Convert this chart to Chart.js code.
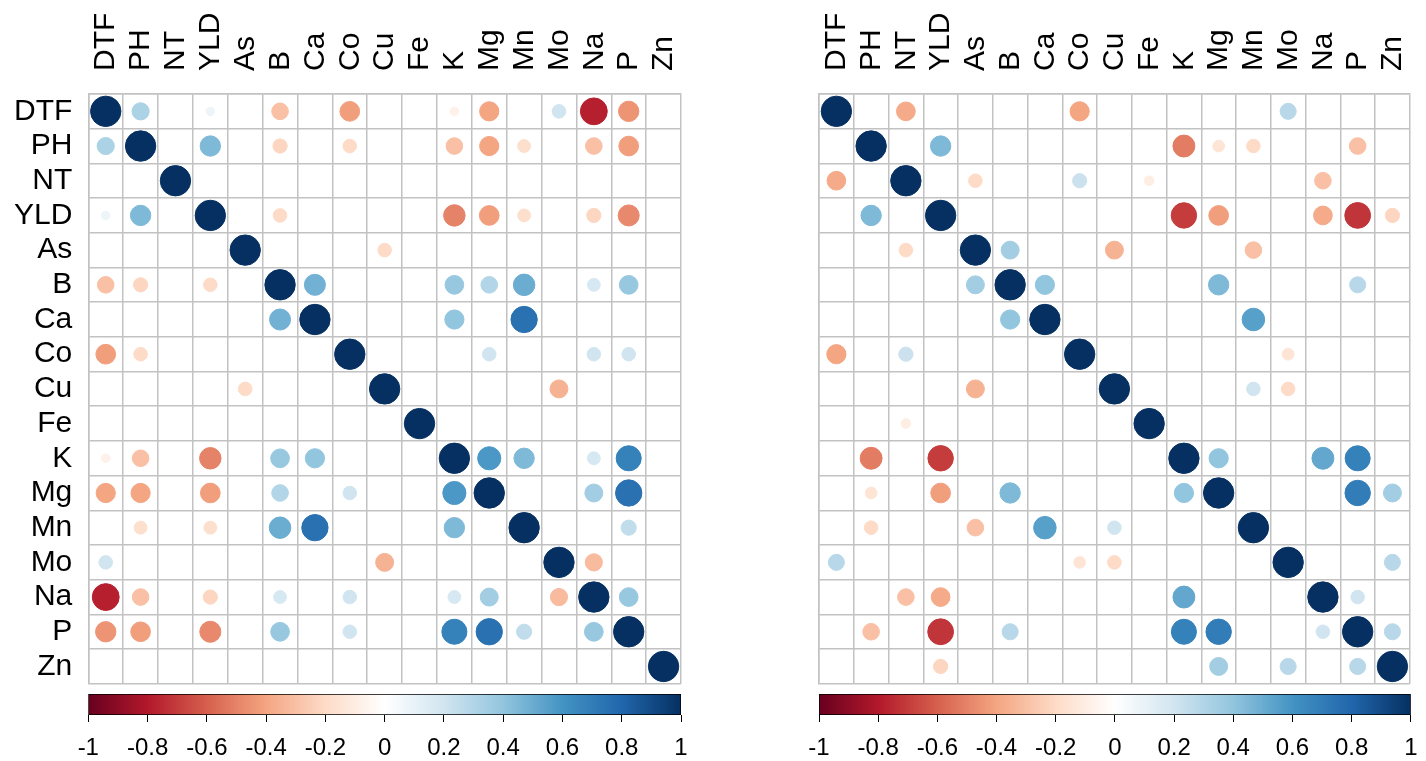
<!DOCTYPE html>
<html>
<head>
<meta charset="utf-8">
<script src="https://cdn.jsdelivr.net/npm/chart.js@4.4.1/dist/chart.umd.min.js"></script>
<style>
  html, body { margin: 0; padding: 0; background: #fff; }
  #wrap { position: relative; width: 1426px; height: 761px; overflow: hidden; }
  .box { position: absolute; }
</style>
</head>
<body>
<div id="wrap">
  <div class="box" style="left:0;top:0;width:700px;height:700px"><canvas id="mat-left"></canvas></div>
  <div class="box" style="left:726px;top:0;width:700px;height:700px"><canvas id="mat-right"></canvas></div>
  <div class="box" style="left:0;top:686px;width:700px;height:75px"><canvas id="bar-left"></canvas></div>
  <div class="box" style="left:726px;top:686px;width:700px;height:75px"><canvas id="bar-right"></canvas></div>
</div>
<script>
const vars = ['DTF', 'PH', 'NT', 'YLD', 'As', 'B', 'Ca', 'Co', 'Cu', 'Fe', 'K', 'Mg', 'Mn', 'Mo', 'Na', 'P', 'Zn'];
const colorTicks = [-1, -0.8, -0.6, -0.4, -0.2, 0, 0.2, 0.4, 0.6, 0.8, 1];
const palette = ['#67001F', '#B2182B', '#D6604D', '#F4A582', '#FDDBC7', '#FFFFFF',
                 '#D1E5F0', '#92C5DE', '#4393C3', '#2166AC', '#053061'];

// left matrix (0 = blank cell)
const corrLeft = [
  [1, .32, 0, .08, 0, -.3, 0, -.42, 0, 0, -.08, -.4, 0, .2, -.78, -.45, 0],
  [.32, 1, 0, .45, 0, -.22, 0, -.2, 0, 0, -.3, -.4, -.18, 0, -.3, -.42, 0],
  [0, 0, 1, 0, 0, 0, 0, 0, 0, 0, 0, 0, 0, 0, 0, 0, 0],
  [.08, .45, 0, 1, 0, -.2, 0, 0, 0, 0, -.5, -.42, -.18, 0, -.22, -.48, 0],
  [0, 0, 0, 0, 1, 0, 0, 0, -.2, 0, 0, 0, 0, 0, 0, 0, 0],
  [-.3, -.22, 0, -.2, 0, 1, .48, 0, 0, 0, .38, .3, .5, 0, .18, .38, 0],
  [0, 0, 0, 0, 0, .48, 1, 0, 0, 0, .4, 0, .75, 0, 0, 0, 0],
  [-.42, -.2, 0, 0, 0, 0, 0, 1, 0, 0, 0, .2, 0, 0, .2, .2, 0],
  [0, 0, 0, 0, -.2, 0, 0, 0, 1, 0, 0, 0, 0, -.35, 0, 0, 0],
  [0, 0, 0, 0, 0, 0, 0, 0, 0, 1, 0, 0, 0, 0, 0, 0, 0],
  [-.08, -.3, 0, -.5, 0, .38, .4, 0, 0, 0, 1, .58, .45, 0, .18, .68, 0],
  [-.4, -.4, 0, -.42, 0, .3, 0, .2, 0, 0, .58, 1, 0, 0, .35, .75, 0],
  [0, -.18, 0, -.18, 0, .5, .75, 0, 0, 0, .45, 0, 1, 0, 0, .25, 0],
  [.2, 0, 0, 0, 0, 0, 0, 0, -.35, 0, 0, 0, 0, 1, -.32, 0, 0],
  [-.78, -.3, 0, -.22, 0, .18, 0, .2, 0, 0, .18, .35, 0, -.32, 1, .38, 0],
  [-.45, -.42, 0, -.48, 0, .38, 0, .2, 0, 0, .68, .75, .25, 0, .38, 1, 0],
  [0, 0, 0, 0, 0, 0, 0, 0, 0, 0, 0, 0, 0, 0, 0, 0, 1]
];

// right matrix
const corrRight = [
  [1, 0, -.38, 0, 0, 0, 0, -.4, 0, 0, 0, 0, 0, .28, 0, 0, 0],
  [0, 1, 0, .45, 0, 0, 0, 0, 0, 0, -.52, -.15, -.2, 0, 0, -.3, 0],
  [-.38, 0, 1, 0, -.2, 0, 0, .22, 0, -.1, 0, 0, 0, 0, -.3, 0, 0],
  [0, .45, 0, 1, 0, 0, 0, 0, 0, 0, -.7, -.42, 0, 0, -.38, -.72, -.22],
  [0, 0, -.2, 0, 1, .35, 0, 0, -.35, 0, 0, 0, -.3, 0, 0, 0, 0],
  [0, 0, 0, 0, .35, 1, .4, 0, 0, 0, 0, .45, 0, 0, 0, .28, 0],
  [0, 0, 0, 0, 0, .4, 1, 0, 0, 0, 0, 0, .55, 0, 0, 0, 0],
  [-.4, 0, .22, 0, 0, 0, 0, 1, 0, 0, 0, 0, 0, -.15, 0, 0, 0],
  [0, 0, 0, 0, -.35, 0, 0, 0, 1, 0, 0, 0, .2, -.2, 0, 0, 0],
  [0, 0, -.1, 0, 0, 0, 0, 0, 0, 1, 0, 0, 0, 0, 0, 0, 0],
  [0, -.52, 0, -.7, 0, 0, 0, 0, 0, 0, 1, .4, 0, 0, .52, .68, 0],
  [0, -.15, 0, -.42, 0, .45, 0, 0, 0, 0, .4, 1, 0, 0, 0, .7, .35],
  [0, -.2, 0, 0, -.3, 0, .55, 0, .2, 0, 0, 0, 1, 0, 0, 0, 0],
  [.28, 0, 0, 0, 0, 0, 0, -.15, -.2, 0, 0, 0, 0, 1, 0, 0, .28],
  [0, 0, -.3, -.38, 0, 0, 0, 0, 0, 0, .52, 0, 0, 0, 1, .2, 0],
  [0, -.3, 0, -.72, 0, .28, 0, 0, 0, 0, .68, .7, 0, 0, .2, 1, .28],
  [0, 0, 0, -.22, 0, 0, 0, 0, 0, 0, 0, .35, 0, .28, 0, .28, 1]
];

Chart.defaults.font.family = "'Liberation Sans', Arial, sans-serif";
Chart.defaults.color = '#000';

function hexRgb(h) {
  return [1, 3, 5].map(i => parseInt(h.slice(i, i + 2), 16));
}

// interpolate the RdBu ramp for a correlation value
function corrColor(v) {
  const t = (v + 1) / 2 * (palette.length - 1);
  const i = Math.min(Math.floor(t), palette.length - 2);
  const f = t - i;
  const a = hexRgb(palette[i]), b = hexRgb(palette[i + 1]);
  const c = a.map((x, k) => Math.round(x + (b[k] - x) * f));
  return `rgb(${c[0]},${c[1]},${c[2]})`;
}

function cellPoints(matrix) {
  const pts = [];
  matrix.forEach((row, i) => row.forEach((v, j) => {
    if (v !== 0) pts.push({ x: vars[j], y: vars[i], v });
  }));
  return pts;
}

const gridGrey = '#c2c2c2';
const radiusFor = ctx => ctx.raw ? 15.2 * Math.sqrt(Math.abs(ctx.raw.v)) : 0;
const fillFor = ctx => ctx.raw ? corrColor(ctx.raw.v) : '#fff';

function matrixChart(id, matrix, showRows, area) {
  return new Chart(document.getElementById(id), {
    type: 'scatter',
    data: {
      datasets: [{
        data: cellPoints(matrix),
        pointStyle: 'circle',
        pointRadius: radiusFor,
        pointHoverRadius: radiusFor,
        backgroundColor: fillFor,
        borderColor: fillFor,
        borderWidth: 1
      }]
    },
    options: {
      responsive: true,
      maintainAspectRatio: false,
      animation: false,
      events: [],
      layout: { padding: { right: area.right, bottom: area.bottom } },
      plugins: { legend: { display: false }, tooltip: { enabled: false } },
      scales: {
        x: {
          type: 'category',
          labels: vars,
          position: 'top',
          offset: true,
          grid: { offset: true, color: gridGrey, lineWidth: 1.5, drawTicks: false },
          border: { color: gridGrey, width: 1.5 },
          ticks: {
            minRotation: 90,
            maxRotation: 90,
            autoSkip: false,
            padding: 23,
            labelOffset: 36.5,   // rotated labels sit one line-height left of the tick
            font: { size: 30 }
          },
          afterFit: s => { s.height = area.top; s.paddingLeft = 0; s.paddingRight = 0; }
        },
        y: {
          type: 'category',
          labels: vars,
          offset: true,
          grid: { offset: true, color: gridGrey, lineWidth: 1.5, drawTicks: false },
          border: { color: gridGrey, width: 1.5 },
          ticks: {
            display: showRows,
            autoSkip: false,
            padding: 16,
            font: { size: 30 }
          },
          afterFit: s => { s.width = area.left; s.paddingTop = 0; s.paddingBottom = 0; }
        }
      }
    }
  });
}

function colorBar(id, area) {
  return new Chart(document.getElementById(id), {
    type: 'bar',
    data: {
      labels: [''],
      datasets: [{
        data: [[colorTicks[0], colorTicks[colorTicks.length - 1]]],
        backgroundColor: ctx => {
          const a = ctx.chart.chartArea;
          if (!a) return '#fff';
          const g = ctx.chart.ctx.createLinearGradient(a.left, 0, a.right, 0);
          palette.forEach((c, i) => g.addColorStop(i / (palette.length - 1), c));
          return g;
        },
        borderColor: '#000',
        borderWidth: 1,
        borderSkipped: false,
        barPercentage: 1,
        categoryPercentage: 1
      }]
    },
    options: {
      indexAxis: 'y',
      responsive: true,
      maintainAspectRatio: false,
      animation: false,
      events: [],
      layout: { padding: { left: area.left, right: area.right, top: 8 } },
      plugins: { legend: { display: false }, tooltip: { enabled: false } },
      scales: {
        x: {
          type: 'linear',
          min: -1,
          max: 1,
          afterBuildTicks: s => { s.ticks = colorTicks.map(v => ({ value: v })); },
          grid: { drawOnChartArea: false, color: '#000', tickLength: 7, lineWidth: 1 },
          border: { display: false },
          ticks: { padding: 12, font: { size: 24 }, callback: v => String(v) },
          afterFit: s => { s.height = 46; s.paddingLeft = 0; s.paddingRight = 0; }
        },
        y: { display: false }
      }
    }
  });
}

matrixChart('mat-left', corrLeft, true, { left: 88.3, top: 94, right: 700 - 681, bottom: 700 - 685.6 });
matrixChart('mat-right', corrRight, false, { left: 93, top: 94, right: 700 - 684.8, bottom: 700 - 685.6 });
colorBar('bar-left', { left: 88.3, right: 700 - 681 });
colorBar('bar-right', { left: 93, right: 700 - 684.8 });
</script>
</body>
</html>
